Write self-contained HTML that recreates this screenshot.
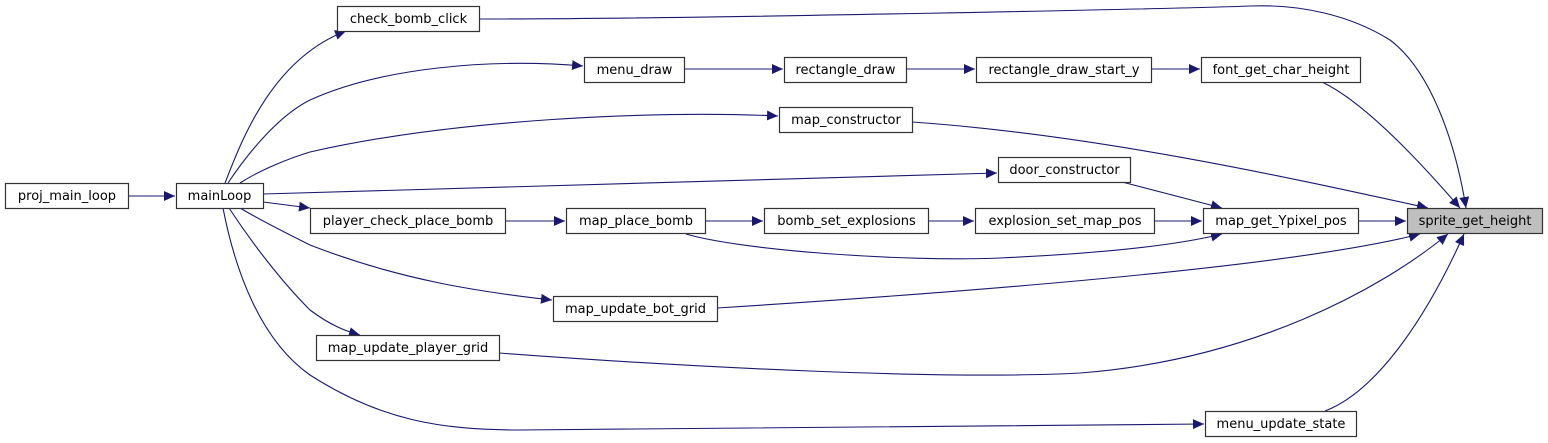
<!DOCTYPE html>
<html><head><meta charset="utf-8"><style>
html,body{margin:0;padding:0;background:#fff;}
svg{display:block;}
text{font-family:"DejaVu Sans","Liberation Sans",sans-serif;font-size:13px;fill:#000;}
.e{fill:none;stroke:#191970;stroke-width:1.1;}
.n{fill:#fff;stroke:#333;stroke-width:1.2;}
</style></head><body>
<svg width="1548" height="443" viewBox="0 0 1548 443" xmlns="http://www.w3.org/2000/svg">
<defs>
<marker id="a" markerUnits="userSpaceOnUse" markerWidth="12" markerHeight="10" refX="11" refY="5" orient="auto">
<path d="M0,0 L11,5 L0,10 Z" fill="#191970"/>
</marker>
</defs>
<g class="e" marker-end="url(#a)">
<path d="M128,196 L175,196"/>
<path d="M225,183 C240,145 270,60 346,31"/>
<path d="M228,183 C250,150 280,115 310,100 C380,68 490,58 583,66"/>
<path d="M240,183 C260,170 290,158 310,152 C450,120 650,110 778,116"/>
<path d="M263,194 L997,173"/>
<path d="M263,202 L310,208"/>
<path d="M240,208 C260,220 290,235 310,245 C400,280 480,292 552,300"/>
<path d="M229,208 C250,240 280,280 310,310 C330,325 345,331 360,335"/>
<path d="M223,208 C235,270 260,340 310,375 C380,420 440,430 520,430 L1204,424"/>
<path d="M684,69 L783,69"/>
<path d="M906,69 L975,69"/>
<path d="M1151,69 L1200,69"/>
<path d="M505,221 L565,221"/>
<path d="M705,221 L763,221"/>
<path d="M928,221 L974,221"/>
<path d="M1154,221 L1202,221"/>
<path d="M1358,221 L1406,221"/>
<path d="M686,234 C740,250 900,262 1000,258 C1130,252 1190,242 1222,234"/>
<path d="M1122,182 L1222,208"/>
<path d="M479,19 C700,19 1200,8 1250,6 C1300,4 1350,15 1390,40 C1430,70 1455,140 1466,208"/>
<path d="M1322,82 C1360,100 1410,150 1460,208"/>
<path d="M912,122 C1100,135 1300,180 1428,208"/>
<path d="M717,308 C1000,290 1300,265 1420,234"/>
<path d="M499,353 C700,368 950,380 1080,373 C1250,360 1380,290 1448,234"/>
<path d="M1325,411 C1380,390 1430,310 1464,234"/>
</g>
<g>
<rect class="n" x="5.5" y="183.5" width="123" height="25"/><text x="67" y="200" text-anchor="middle">proj_main_loop</text>
<rect class="n" x="176.5" y="183.5" width="87" height="25"/><text x="219.5" y="200" text-anchor="middle">mainLoop</text>
<rect class="n" x="337.5" y="6.5" width="142" height="25"/><text x="408.5" y="23" text-anchor="middle">check_bomb_click</text>
<rect class="n" x="584.5" y="57.5" width="100" height="25"/><text x="634.5" y="74" text-anchor="middle">menu_draw</text>
<rect class="n" x="784.5" y="57.5" width="122" height="25"/><text x="845.5" y="74" text-anchor="middle">rectangle_draw</text>
<rect class="n" x="976.5" y="57.5" width="175" height="25"/><text x="1064" y="74" text-anchor="middle">rectangle_draw_start_y</text>
<rect class="n" x="1201.5" y="57.5" width="159" height="25"/><text x="1281" y="74" text-anchor="middle">font_get_char_height</text>
<rect class="n" x="779.5" y="107.5" width="133" height="25"/><text x="846" y="124" text-anchor="middle">map_constructor</text>
<rect class="n" x="998.5" y="157.5" width="132" height="25"/><text x="1064.5" y="174" text-anchor="middle">door_constructor</text>
<rect class="n" x="310.5" y="208.5" width="195" height="25"/><text x="408" y="225" text-anchor="middle">player_check_place_bomb</text>
<rect class="n" x="566.5" y="208.5" width="139" height="25"/><text x="636" y="225" text-anchor="middle">map_place_bomb</text>
<rect class="n" x="764.5" y="208.5" width="164" height="25"/><text x="846.5" y="225" text-anchor="middle">bomb_set_explosions</text>
<rect class="n" x="975.5" y="208.5" width="179" height="25"/><text x="1065" y="225" text-anchor="middle">explosion_set_map_pos</text>
<rect class="n" x="1203.5" y="208.5" width="155" height="25"/><text x="1281" y="225" text-anchor="middle">map_get_Ypixel_pos</text>
<rect x="1407.5" y="208.5" width="135" height="25" fill="#bfbfbf" stroke="#333" stroke-width="1.2"/><text x="1475" y="225" text-anchor="middle">sprite_get_height</text>
<rect class="n" x="553.5" y="296.5" width="164" height="25"/><text x="635.5" y="313" text-anchor="middle">map_update_bot_grid</text>
<rect class="n" x="316.5" y="335.5" width="183" height="25"/><text x="408" y="352" text-anchor="middle">map_update_player_grid</text>
<rect class="n" x="1205.5" y="411.5" width="151" height="25"/><text x="1281" y="428" text-anchor="middle">menu_update_state</text>
</g>
</svg>
</body></html>
